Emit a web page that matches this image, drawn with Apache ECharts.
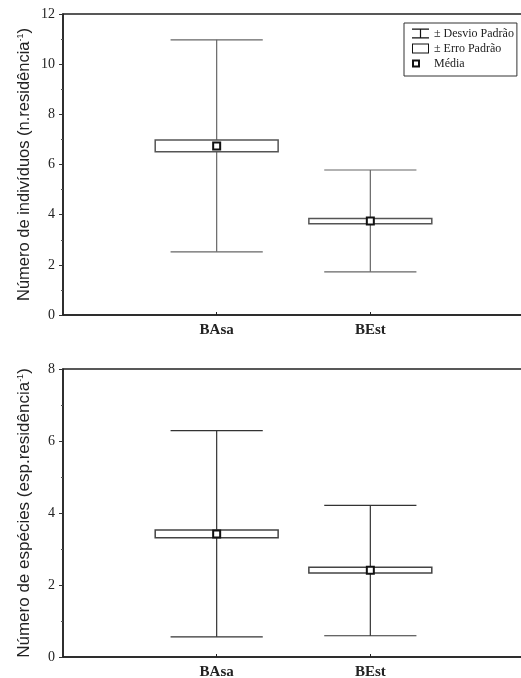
<!DOCTYPE html>
<html>
<head>
<meta charset="utf-8">
<script src="https://cdn.jsdelivr.net/npm/echarts@6/dist/echarts.min.js"></script>
<style>
  html, body { margin: 0; padding: 0; background: #fff; }
  #chart { width: 521px; height: 678px; }
</style>
</head>
<body>
<div id="chart"></div>
<script>
// categorias
const categories = ["BAsa", "BEst"];

// número de indivíduos
const indMean = [6.74, 3.75];
const indSeLow = [6.51, 3.64];
const indSeHigh = [6.98, 3.85];
const indSdLow = [2.52, 1.72];
const indSdHigh = [10.97, 5.78];

// número de espécies
const espMean = [3.42, 2.41];
const espSeLow = [3.31, 2.33];
const espSeHigh = [3.53, 2.49];
const espSdLow = [0.56, 0.59];
const espSdHigh = [6.29, 4.21];

const indTicks = [0, 2, 4, 6, 8, 10, 12];
const espTicks = [0, 2, 4, 6, 8];

const legendNames = ["± Desvio Padrão", "± Erro Padrão", "Média"];

const serif = "Liberation Serif";
const sans = "Liberation Sans";

function rows(low, high, mean) {
  return categories.map((c, i) => [i + 1, low[i], high[i], mean[i]]);
}

// bigode (desvio padrão)
function whiskerItem(color) {
  return function (params, api) {
    const x = api.value(0);
    const lo = api.coord([x, api.value(1)]);
    const hi = api.coord([x, api.value(2)]);
    const capL = api.coord([x - 0.3, 0])[0];
    const capR = api.coord([x + 0.3, 0])[0];
    const style = { stroke: color, lineWidth: 1.2 };
    return {
      type: "group",
      children: [
        { type: "line", shape: { x1: lo[0], y1: lo[1], x2: hi[0], y2: hi[1] }, style },
        { type: "line", shape: { x1: capL, y1: hi[1], x2: capR, y2: hi[1] }, style },
        { type: "line", shape: { x1: capL, y1: lo[1], x2: capR, y2: lo[1] }, style },
      ],
    };
  };
}

// caixa (erro padrão)
function boxItem(color) {
  return function (params, api) {
    const x = api.value(0);
    const lo = api.coord([x - 0.4, api.value(1)]);
    const hi = api.coord([x + 0.4, api.value(2)]);
    return {
      type: "rect",
      shape: { x: lo[0], y: hi[1], width: hi[0] - lo[0], height: lo[1] - hi[1] },
      style: { fill: "#fff", stroke: color, lineWidth: 1.5 },
    };
  };
}

// média
function meanItem(params, api) {
  const p = api.coord([api.value(0), api.value(3)]);
  return {
    type: "rect",
    shape: { x: p[0] - 3.5, y: p[1] - 3.5, width: 7, height: 7 },
    style: { fill: "#fff", stroke: "#111", lineWidth: 2 },
  };
}

function yName(text) {
  return "{t|" + text + "}{s|-1}{t|)}";
}

function nameRich(size) {
  return {
    t: { fontFamily: sans, fontSize: size, color: "#222" },
    s: { fontFamily: sans, fontSize: 9, color: "#222", verticalAlign: "top", padding: [0, 0, 8, 0] },
  };
}

function xAxisFor(gi) {
  return {
    gridIndex: gi,
    type: "value",
    min: 0,
    max: 3,
    interval: 1,
    splitLine: { show: false },
    axisLine: { lineStyle: { color: "#222", width: 1.5 } },
    axisTick: { inside: true, length: 3, customValues: [1, 2], lineStyle: { color: "#222" } },
    axisLabel: {
      customValues: [1, 2],
      formatter: (v) => categories[v - 1] || "",
      fontFamily: serif,
      fontWeight: "bold",
      fontSize: 15,
      color: "#222",
      margin: 8,
    },
  };
}

function yAxisFor(gi, ticks, name, size, gap) {
  return {
    gridIndex: gi,
    type: "value",
    min: ticks[0],
    max: ticks[ticks.length - 1],
    interval: ticks[1] - ticks[0],
    name: yName(name),
    nameLocation: "middle",
    nameGap: gap,
    nameMoveOverlap: false,
    nameTextStyle: { rich: nameRich(size) },
    splitLine: { show: false },
    axisLine: { show: true, lineStyle: { color: "#222", width: 1.5 } },
    axisTick: { show: true, length: 4, lineStyle: { color: "#333" } },
    minorTick: { show: true, splitNumber: 2, length: 2, lineStyle: { color: "#555" } },
    axisLabel: { fontFamily: serif, fontSize: 14, color: "#222", margin: 8 },
  };
}

const chart = echarts.init(document.getElementById("chart"));

chart.setOption({
  animation: false,
  grid: [
    { left: 63, top: 14, width: 461, height: 301, outerBoundsMode: "none", show: true, borderColor: "#222", borderWidth: 1.5 },
    { left: 63, top: 369, width: 461, height: 288, outerBoundsMode: "none", show: true, borderColor: "#222", borderWidth: 1.5 },
  ],
  legend: {
    orient: "vertical",
    left: 404,
    top: 23,
    padding: [4, 3, 6, 8],
    itemGap: 2,
    itemWidth: 17,
    itemHeight: 10,
    borderColor: "#333",
    borderWidth: 1,
    backgroundColor: "#fff",
    textStyle: { fontFamily: serif, fontSize: 12, color: "#222", lineHeight: 13 },
    data: [
      { name: legendNames[0], icon: "path://M0,0h17v1.2h-17z M7.9,0h1.2v10h-1.2z M0,8.8h17v1.2h-17z", itemStyle: { color: "#111" } },
      { name: legendNames[1], icon: "path://M0,0h17v10h-17z M1,1v8h15v-8z", itemStyle: { color: "#111" } },
      { name: legendNames[2], icon: "path://M17,0 M0,1h8v8h-8z M2,3v4h4v-4z M0,10", itemStyle: { color: "#111" } },
    ],
  },
  xAxis: [xAxisFor(0), xAxisFor(1)],
  yAxis: [
    yAxisFor(0, indTicks, "Número de indivíduos (n.residência", 16.5, 30),
    yAxisFor(1, espTicks, "Número de espécies (esp.residência", 17, 30),
  ],
  series: [
    { name: legendNames[0], type: "custom", xAxisIndex: 0, yAxisIndex: 0, renderItem: whiskerItem("#666"), data: rows(indSdLow, indSdHigh, indMean), itemStyle: { color: "#111" } },
    { name: legendNames[1], type: "custom", xAxisIndex: 0, yAxisIndex: 0, renderItem: boxItem("#555"), data: rows(indSeLow, indSeHigh, indMean), itemStyle: { color: "#111" } },
    { name: legendNames[2], type: "custom", xAxisIndex: 0, yAxisIndex: 0, renderItem: meanItem, data: rows(indSeLow, indSeHigh, indMean), itemStyle: { color: "#111" } },
    { name: legendNames[0], type: "custom", xAxisIndex: 1, yAxisIndex: 1, renderItem: whiskerItem("#333"), data: rows(espSdLow, espSdHigh, espMean), itemStyle: { color: "#111" } },
    { name: legendNames[1], type: "custom", xAxisIndex: 1, yAxisIndex: 1, renderItem: boxItem("#444"), data: rows(espSeLow, espSeHigh, espMean), itemStyle: { color: "#111" } },
    { name: legendNames[2], type: "custom", xAxisIndex: 1, yAxisIndex: 1, renderItem: meanItem, data: rows(espSeLow, espSeHigh, espMean), itemStyle: { color: "#111" } },
  ],
});
</script>
</body>
</html>
